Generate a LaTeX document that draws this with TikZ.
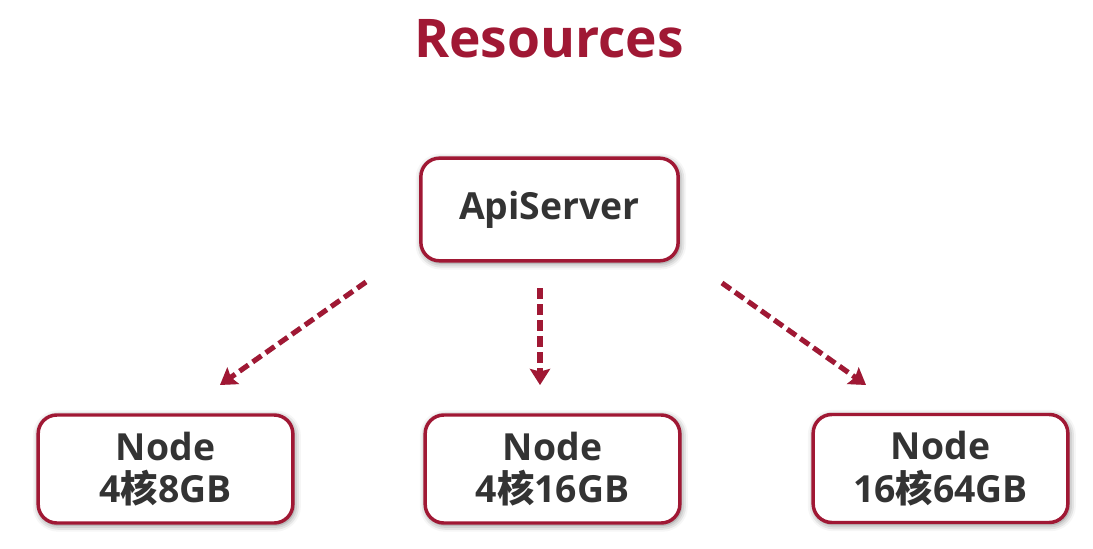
\documentclass[tikz,border=0pt]{standalone}
\usepackage{fontspec}
\setmainfont{Open Sans}
\newfontfamily\cjk{Noto Sans CJK SC}
\usetikzlibrary{shadows.blur,arrows.meta}
\definecolor{crimson}{RGB}{160,24,52}
\definecolor{txtgray}{RGB}{51,51,51}
\newcommand{\he}{{\cjk\bfseries 核}}
\tikzset{
  box/.style={draw=crimson, line width=2.6pt, rounded corners=14pt, fill=white,
    align=center, text=txtgray, font=\bfseries\fontsize{28}{32}\selectfont,
    blur shadow={shadow xshift=1pt, shadow yshift=-1.5pt, shadow blur radius=5pt, shadow opacity=55}},
  flow/.style={crimson, line width=3.8pt, dash pattern=on 8pt off 4pt,
    -{Stealth[length=12pt, width=15pt, inset=2pt]}},
  flowshade/.style={black!40, opacity=0.45, line width=3.8pt, dash pattern=on 8pt off 4pt,
    -{Stealth[length=12pt, width=15pt, inset=2pt]}, shift={(2.5,2.5)}}
}
\begin{document}
\begin{tikzpicture}[x=0.75pt, y=-0.75pt]
  \useasboundingbox (0,0) rectangle (1093,549);

  % title
  \node[text=crimson, font=\bfseries\fontsize{40}{46}\selectfont] (title) at (549,39) {Resources};

  % boxes
  \node[box, minimum width=193pt, minimum height=77pt] (api) at (549.5,209.5) {ApiServer};
  \node[box, minimum width=191pt, minimum height=81pt] (n1) at (165.5,469) {Node\\4\he 8GB};
  \node[box, minimum width=191pt, minimum height=81pt] (n2) at (552.5,469) {Node\\4\he 16GB};
  \node[box, minimum width=191pt, minimum height=81pt] (n3) at (940.5,468.5) {Node\\16\he 64GB};

  % arrow ends
  \coordinate (a1) at (366,282);
  \coordinate (b1) at (220,385);
  \coordinate (a2) at (540,288);
  \coordinate (b2) at (540,385);
  \coordinate (a3) at (722,283);
  \coordinate (b3) at (866,385);

  \foreach \i in {1,2,3} {
    \draw[flowshade] (a\i) -- (b\i);
    \draw[flow] (a\i) -- (b\i);
  }
\end{tikzpicture}
\end{document}
